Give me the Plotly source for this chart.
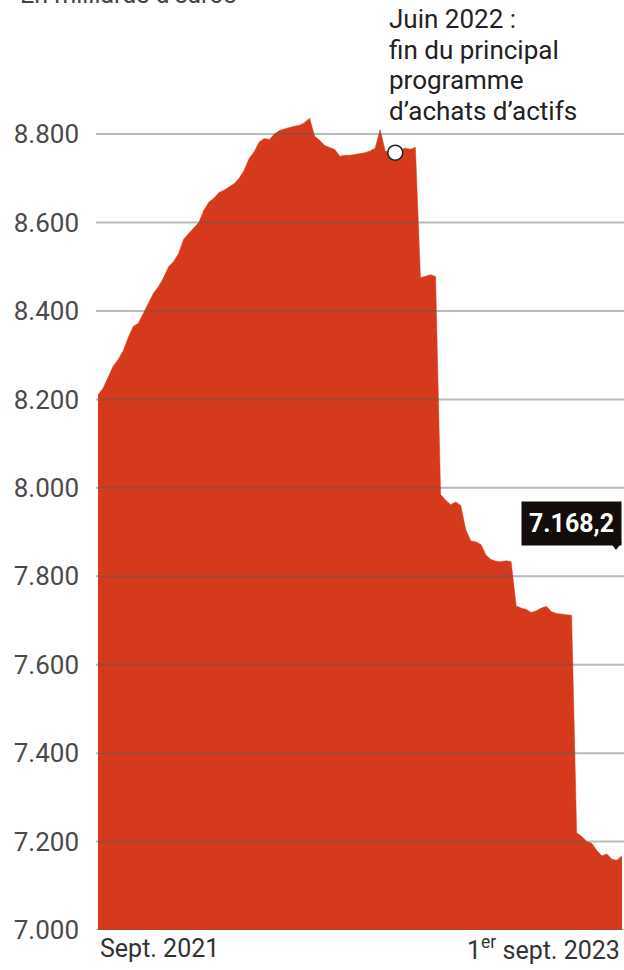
import pandas as pd
import plotly.graph_objects as go

# Eurosystem consolidated balance sheet, weekly (billions of euros)
dates = pd.date_range("2021-09-03", "2023-09-01", freq="7D")
values = [
    8210, 8225, 8250, 8275, 8290, 8310, 8340, 8365, 8372, 8395,
    8420, 8440, 8455, 8475, 8500, 8512, 8530, 8562, 8575, 8588,
    8600, 8628, 8646, 8655, 8668, 8673, 8680, 8688, 8700, 8718,
    8745, 8760, 8782, 8790, 8788, 8800, 8808, 8812, 8815, 8818,
    8820, 8826, 8836, 8795, 8786, 8774, 8770, 8765, 8750, 8752,
    8752, 8754, 8755, 8758, 8762, 8768, 8810, 8762, 8760, 8758,
    8765, 8768, 8766, 8770, 8475, 8478, 8482, 8478, 7985, 7972,
    7962, 7968, 7960, 7905, 7880, 7878, 7872, 7848, 7838, 7834,
    7833, 7835, 7833, 7733, 7728, 7725, 7718, 7722, 7728, 7732,
    7720, 7716, 7714, 7713, 7712, 7220, 7212, 7200, 7196, 7180,
    7168, 7172, 7160, 7158, 7168.2,
]
tick_values = [7000, 7200, 7400, 7600, 7800, 8000, 8200, 8400, 8600, 8800]
tick_labels = ["7.000", "7.200", "7.400", "7.600", "7.800",
               "8.000", "8.200", "8.400", "8.600", "8.800"]
note_lines = ["Juin 2022 :", "fin du principal", "programme",
              "d’achats d’actifs"]
marker_index = 59
last_label = "7.168,2"

RED = "#d63a1c"
FONT = "Roboto"
W, H = 624, 970
M_L, M_R, M_T, M_B = 98, 2, 112, 40
PLOT_H = H - M_T - M_B


def py(pixel_y):
    """Paper y coordinate for a vertical pixel position on the page."""
    return 1 - (pixel_y - M_T) / PLOT_H


def px(pixel_x):
    """Paper x coordinate for a horizontal pixel position on the page."""
    return (pixel_x - M_L) / (W - M_L - M_R)


fig = go.Figure()
fig.add_trace(go.Scatter(
    x=dates, y=values, mode="lines", line=dict(color=RED, width=0.5),
    fill="tozeroy", fillcolor=RED, hoverinfo="skip", showlegend=False,
))
fig.add_trace(go.Scatter(
    x=[dates[marker_index]], y=[values[marker_index]], mode="markers",
    marker=dict(size=15, color="white", line=dict(color="#222", width=1.5)),
    hoverinfo="skip", showlegend=False,
))

# horizontal rules drawn over the filled area
for v in tick_values:
    fig.add_shape(type="line", xref="paper", yref="y",
                  x0=px(96), x1=px(624), y0=v, y1=v, layer="above",
                  line=dict(color="rgba(90,90,90,0.42)", width=2))

fig.update_xaxes(range=[dates[0], dates[-1]], showgrid=False,
                 showticklabels=False, zeroline=False, showline=False)
fig.update_yaxes(range=[7000, 8850], tickvals=tick_values, ticktext=tick_labels,
                 showgrid=False, zeroline=False, showline=False,
                 ticklabelstandoff=18,
                 tickfont=dict(family=FONT, size=26, color="#4a4a4a"))

annotations = [
    dict(text="En milliards d’euros", xref="paper", yref="paper",
         x=px(18), y=py(-6), xanchor="left", yanchor="middle",
         showarrow=False, font=dict(family=FONT, size=25, color="#444")),
    dict(text="<b>" + last_label + "</b>", xref="paper", yref="paper",
         x=1.0, y=py(523), xanchor="right", yanchor="middle",
         showarrow=False, bgcolor="#120d0a", borderpad=7,
         font=dict(family=FONT, size=25, color="white")),
    dict(text="Sept. 2021", xref="paper", yref="paper", x=0, y=py(948),
         xanchor="left", yanchor="middle", showarrow=False,
         font=dict(family=FONT, size=25, color="#333")),
    dict(text="1<sup>er</sup> sept. 2023", xref="paper", yref="paper", x=1,
         y=py(948), xanchor="right", yanchor="middle", showarrow=False,
         font=dict(family=FONT, size=25, color="#333")),
]
for i, line in enumerate(note_lines):
    annotations.append(dict(
        text=line, xref="paper", yref="paper", x=px(387),
        y=py(19 + 30.5 * i), xanchor="left", yanchor="middle",
        showarrow=False, bgcolor="white",
        font=dict(family=FONT, size=26, color="#222")))

# small tail under the value tag
fig.add_shape(type="path", xref="paper", yref="paper",
              path=f"M {px(610)} {py(542)} L {px(622)} {py(542)} "
                   f"L {px(616)} {py(550)} Z",
              fillcolor="#120d0a", line=dict(width=0), layer="above")

fig.update_layout(
    width=W, height=H,
    margin=dict(l=M_L, r=M_R, t=M_T, b=M_B),
    paper_bgcolor="white", plot_bgcolor="white",
    annotations=annotations,
    font=dict(family=FONT),
)

fig.write_html("out.html")
